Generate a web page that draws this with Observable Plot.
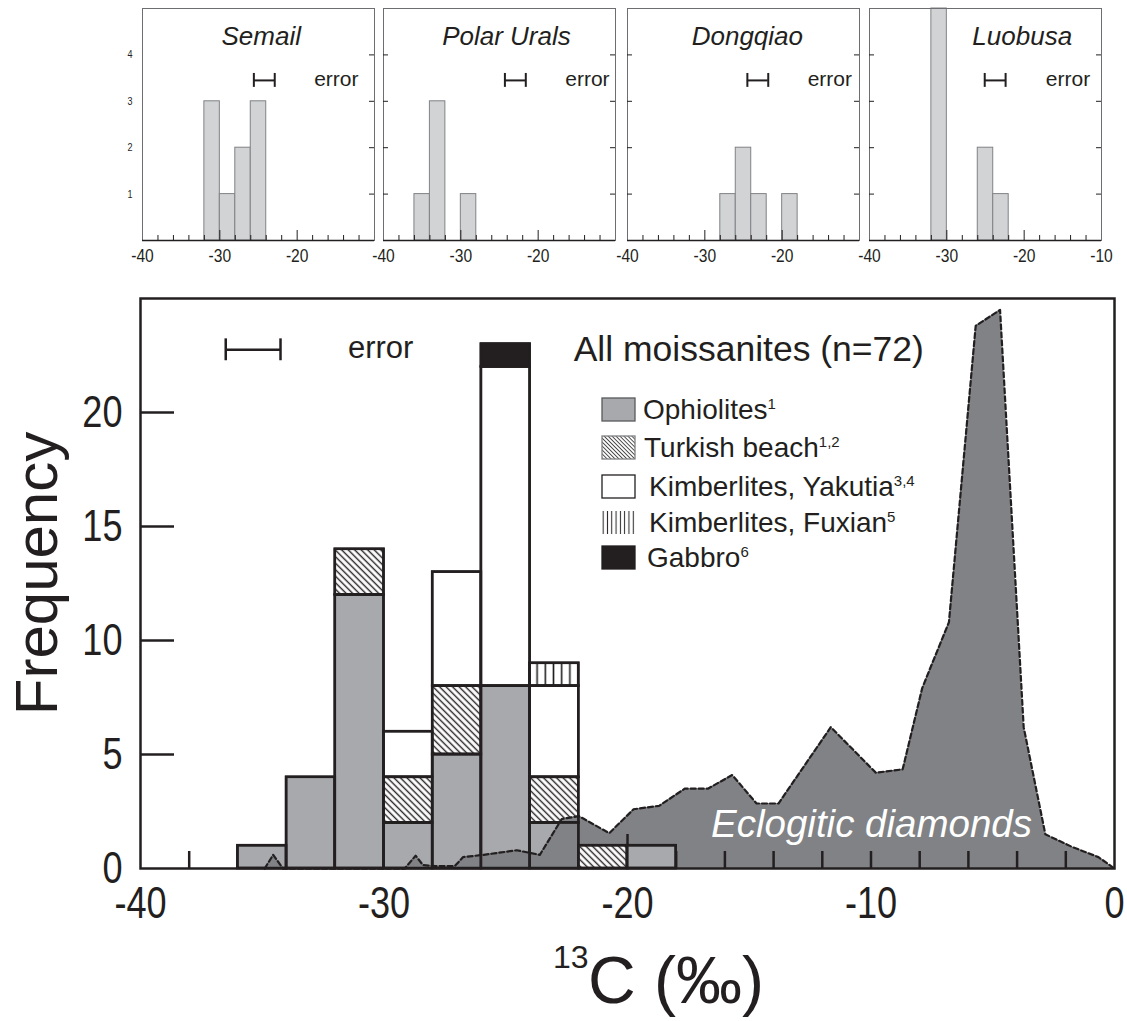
<!DOCTYPE html>
<html>
<head>
<meta charset="utf-8">
<script src="https://cdn.jsdelivr.net/npm/d3@7"></script>
<script src="https://cdn.jsdelivr.net/npm/@observablehq/plot@0.6"></script>
<style>
  body { margin: 0; background: #ffffff; }
  #root { position: relative; width: 1127px; height: 1021px; overflow: hidden;
          font-family: "Liberation Sans", Arial, Helvetica, sans-serif; color: #231f20; background: #fff; }
  .abs { position: absolute; }
  .legtext { position: absolute; font-size: 28px; line-height: 28px; white-space: nowrap; }
  .legtext sup { font-size: 15px; vertical-align: baseline; position: relative; top: -10px; }
</style>
</head>
<body>
<div id="root"></div>
<script>
// ---------------- data ----------------
// main histogram (bins of 2 permil)
const binStarts = [-36, -34, -32, -30, -28, -26, -24, -22, -20];
const binWidth = 2;
const sources = ["Ophiolites", "Turkish beach", "Kimberlites, Yakutia", "Kimberlites, Fuxian", "Gabbro"];
const ophiolites         = [1, 4, 12, 2, 5, 8, 2, 0, 1];
const turkishBeach       = [0, 0, 2, 2, 3, 0, 2, 1, 0];
const kimberlitesYakutia = [0, 0, 0, 2, 5, 14, 4, 0, 0];
const kimberlitesFuxian  = [0, 0, 0, 0, 0, 0, 1, 0, 0];
const gabbro             = [0, 0, 0, 0, 0, 1, 0, 0, 0];
const legendRefs = ["1", "1,2", "3,4", "5", "6"];

// eclogitic diamonds distribution
const eclogiteX = [-34.9, -34.55, -34.15, -29.15, -28.7, -28.4, -27.9, -27.1, -26.75, -25.9, -24.55, -23.6, -22.7, -22.0,
                   -20.75, -19.75, -18.7, -17.65, -16.7, -15.7, -14.7, -13.8, -11.65, -9.8, -8.7, -7.9, -7.6, -6.8,
                   -5.7, -4.7, -3.73, -2.84, -1.75, -0.66, 0];
const eclogiteY = [0, 0.6, 0, 0, 0.56, 0.15, 0.1, 0.1, 0.5, 0.6, 0.8, 0.6, 2.17, 2.3,
                   1.55, 2.6, 2.75, 3.5, 3.5, 4.1, 2.85, 2.85, 6.2, 4.2, 4.35, 7.9, 8.7, 10.8,
                   23.8, 24.5, 6.2, 1.5, 0.95, 0.5, 0];

const mainXTickLabels = [-40, -30, -20, -10, 0];
const mainYTickLabels = [0, 5, 10, 15, 20];
const mainMinorXTicks = [-38, -36, -34, -32, -28, -26, -24, -22, -18, -16, -14, -12, -10, -8, -6, -4, -2];
const mainMajorXTicks = [-30, -20];
const mainYTicks = [5, 10, 15, 20];
const mainError = [-36.5, -34.25];
const mainErrorY = 22.75;

// small panels
const panelNames = ["Semail", "Polar Urals", "Dongqiao", "Luobusa"];
const semailBins = [-32, -30, -28, -26];     const semailCounts = [3, 1, 2, 3];
const polarUralsBins = [-36, -34, -30];      const polarUralsCounts = [1, 3, 1];
const dongqiaoBins = [-28, -26, -24, -20];   const dongqiaoCounts = [1, 2, 1, 1];
const luobusaBins = [-32, -26, -24];         const luobusaCounts = [5, 2, 1];
const smallXTickLabels = [[-40, -30, -20], [-40, -30, -20], [-40, -30, -20], [-40, -30, -20, -10]];
const smallMinorXTicks = [-38, -36, -34, -32, -28, -26, -24, -22, -18, -16, -14, -12];
const smallMajorXTicks = [-30, -20];
const smallYTicks = [1, 2, 3, 4];
const smallErrors = [[-25.6, -22.9], [-24.3, -21.6], [-24.5, -21.8], [-25.1, -22.4]];
const smallErrorY = 3.45;
const smallErrorTextX = [-17.8, -16.5, -16.7, -17.2];
const smallTitleX = [-24.65, -24.1, -24.5, -20.25];

// ---------------- styling ----------------
const INK = "#231f20";
const REG = '"Liberation Sans", Arial, Helvetica, sans-serif';
const sourceFills = ["#a7a9ac", "url(#hatchMain)", "#ffffff", "url(#vertMain)", INK];
const legendFills = ["#a7a9ac", "url(#hatchLegend)", "#ffffff", "url(#vertLegend)", INK];
const legendStrokes = ["#58595b", "#808285", INK, "none", INK];
const fmt = d => String(d);   // plain hyphen-minus as in the original

const root = document.getElementById("root");

// pattern definitions
const defsSvg = d3.select(root).append("svg").attr("width", 0).attr("height", 0)
  .style("position", "absolute").style("left", 0).style("top", 0);
const defs = defsSvg.append("defs");
function hatch(id, w, sw, rot) {
  const p = defs.append("pattern").attr("id", id).attr("patternUnits", "userSpaceOnUse")
    .attr("width", w).attr("height", 20);
  if (rot) p.attr("patternTransform", `rotate(${rot})`);
  p.append("rect").attr("width", w).attr("height", 20).attr("fill", "#ffffff");
  p.append("line").attr("x1", w / 2).attr("x2", w / 2).attr("y1", -1).attr("y2", 21)
    .attr("stroke", INK).attr("stroke-width", sw);
}
hatch("hatchMain", 4.6, 1.4, -45);
hatch("vertMain", 8.2, 1.6, 0);
hatch("hatchLegend", 2.8, 0.8, -45);
hatch("vertLegend", 4.3, 1.0, 0);

// condense tick labels (the original uses a narrow sans)
function condense(svg, factor) {
  svg.querySelectorAll('g[aria-label$="tick label"] text').forEach(t => {
    const w = t.getComputedTextLength();
    if (w > 0) {
      t.setAttribute("textLength", (w * factor).toFixed(2));
      t.setAttribute("lengthAdjust", "spacingAndGlyphs");
    }
  });
}

// ---------------- small panels ----------------
const panelBins = [semailBins, polarUralsBins, dongqiaoBins, luobusaBins];
const panelCounts = [semailCounts, polarUralsCounts, dongqiaoCounts, luobusaCounts];
const panelFrameLeft = [142, 382.5, 626.5, 868.5];
const SW = 232, SH = 232, sL = 24, sR = 8, sT = 8, sB = 40;

panelNames.forEach((name, i) => {
  const data = panelBins[i].map((b, j) => ({x1: b, x2: b + binWidth, n: panelCounts[i][j]}));
  const err = smallErrors[i];
  const p = Plot.plot({
    width: SW + sL + sR, height: SH + sT + sB,
    marginLeft: sL, marginRight: sR, marginTop: sT, marginBottom: sB,
    x: {domain: [-40, -10], label: null},
    y: {domain: [0, 5], label: null, axis: i === 0 ? undefined : null},
    style: {background: "transparent", overflow: "visible", fontFamily: REG, color: INK},
    marks: [
      Plot.rectY(data, {x1: "x1", x2: "x2", y1: 0, y2: "n", fill: "#d1d3d4", stroke: "#808285", strokeWidth: 1}),
      Plot.frame({stroke: "#6d6e71", strokeWidth: 1}),
      Plot.ruleX(smallMinorXTicks, {x: d => d, insetTop: SH - 5, stroke: INK, strokeWidth: 1}),
      Plot.ruleX(smallMajorXTicks, {x: d => d, insetTop: SH - 10, stroke: INK, strokeWidth: 1}),
      i === 0
        ? Plot.ruleY(smallYTicks, {y: d => d, insetRight: SW + 5, insetLeft: -5, stroke: INK, strokeWidth: 1})
        : Plot.ruleY(smallYTicks, {y: d => d, insetRight: SW - 5, stroke: INK, strokeWidth: 1}),
      Plot.ruleY(smallYTicks, {y: d => d, insetLeft: SW - 5, stroke: INK, strokeWidth: 1}),
      Plot.ruleY([0], {stroke: INK, strokeWidth: 1.3}),
      Plot.axisX(smallXTickLabels[i], {tickSize: 0, tickPadding: 8, fontSize: 19, tickFormat: fmt, label: null}),
      i === 0 ? Plot.axisY(smallYTicks, {tickSize: 0, tickPadding: 10, fontSize: 11, tickFormat: fmt, label: null}) : null,
      Plot.text([name], {x: smallTitleX[i], y: 4.21, text: d => d, fontSize: 26, fontStyle: "italic",
                         lineAnchor: "bottom", fill: INK}),
      Plot.ruleY([smallErrorY], {x1: err[0], x2: err[1], stroke: INK, strokeWidth: 2}),
      Plot.ruleX(err, {x: d => d, y1: smallErrorY - 0.15, y2: smallErrorY + 0.15, stroke: INK, strokeWidth: 2}),
      Plot.text(["error"], {x: smallErrorTextX[i], y: 3.32, text: d => d, fontSize: 21, textAnchor: "start",
                            lineAnchor: "bottom", fill: INK})
    ]
  });
  p.style.position = "absolute";
  p.style.left = (panelFrameLeft[i] - sL) + "px";
  p.style.top = "0px";
  root.appendChild(p);
  condense(p, 0.82);
});

// ---------------- main chart ----------------
const sourceCounts = [ophiolites, turkishBeach, kimberlitesYakutia, kimberlitesFuxian, gabbro];
const stacked = [];
binStarts.forEach((b, i) => {
  let base = 0;
  sources.forEach((s, k) => {
    const v = sourceCounts[k][i];
    if (v > 0) stacked.push({x1: b, x2: b + binWidth, y1: base, y2: base + v, source: s});
    base += v;
  });
});
const eclogite = eclogiteX.map((x, i) => ({x, y: eclogiteY[i]}));
const eclogiteLow = eclogite.filter(d => d.x <= -22);

const MW = 1127, mL = 140, mR = 13, mT = 28, mB = 150;
const innerW = MW - mL - mR, innerH = 570;

const main = Plot.plot({
  width: MW, height: innerH + mT + mB,
  marginLeft: mL, marginRight: mR, marginTop: mT, marginBottom: mB,
  x: {domain: [-40, 0], label: null},
  y: {domain: [0, 25], label: null},
  color: {domain: sources, range: sourceFills},
  style: {background: "transparent", overflow: "visible", fontFamily: REG, color: INK},
  marks: [
    Plot.areaY(eclogite, {x: "x", y: "y", fill: "#808285"}),
    Plot.lineY(eclogite, {x: "x", y: "y", stroke: INK, strokeWidth: 2.2, strokeDasharray: "5,3"}),
    Plot.ruleX(mainMinorXTicks, {x: d => d, insetTop: innerH - 17, stroke: INK, strokeWidth: 2.5}),
    Plot.ruleX(mainMajorXTicks, {x: d => d, insetTop: innerH - 34, stroke: INK, strokeWidth: 2.5}),
    Plot.ruleY(mainYTicks, {y: d => d, insetRight: innerW - 34, stroke: INK, strokeWidth: 2.5}),
    Plot.rect(stacked, {x1: "x1", x2: "x2", y1: "y1", y2: "y2", fill: "source", stroke: INK, strokeWidth: 2.5}),
    Plot.areaY(eclogiteLow, {x: "x", y: "y", fill: "#808285"}),
    Plot.lineY(eclogiteLow, {x: "x", y: "y", stroke: INK, strokeWidth: 2.2, strokeDasharray: "5,3"}),
    Plot.rect(stacked, {x1: "x1", x2: "x2", y1: "y1", y2: "y2", fill: "none", stroke: INK, strokeWidth: 2.5}),
    Plot.frame({stroke: INK, strokeWidth: 2.5}),
    Plot.ruleY([mainErrorY], {x1: mainError[0], x2: mainError[1], stroke: INK, strokeWidth: 2.5}),
    Plot.ruleX(mainError, {x: d => d, y1: mainErrorY - 0.48, y2: mainErrorY + 0.48, stroke: INK, strokeWidth: 2.5}),
    Plot.text(["error"], {x: -31.48, y: 22.38, text: d => d, fontSize: 31, textAnchor: "start", lineAnchor: "bottom", fill: INK}),
    Plot.text(["All moissanites (n=72)"], {x: -22.21, y: 22.25, text: d => d, fontSize: 35.5, textAnchor: "start", lineAnchor: "bottom", fill: INK}),
    Plot.text(["Eclogitic diamonds"], {x: -16.57, y: 1.38, text: d => d, fontSize: 38.5, fontStyle: "italic", textAnchor: "start", lineAnchor: "bottom", fill: "#ffffff"}),
    Plot.axisX(mainXTickLabels, {tickSize: 0, tickPadding: 18, fontSize: 44, tickFormat: fmt, label: null}),
    Plot.axisY(mainYTickLabels, {tickSize: 0, tickPadding: 18, fontSize: 44, tickFormat: fmt, label: null}),
    Plot.text(["Frequency"], {frameAnchor: "left", text: d => d, rotate: -90, textAnchor: "middle",
                              dx: -103, dy: -10, fontSize: 60, fill: INK})
  ]
});
main.style.position = "absolute";
main.style.left = "0px";
main.style.top = "270px";
root.appendChild(main);
condense(main, 0.82);

// ---------------- legend ----------------
const legendCenters = [409, 447, 486, 522, 557];
const legendTextX = [643, 644, 649, 649, 647];
sources.forEach((s, k) => {
  const sw = d3.select(root).append("svg").attr("width", 35).attr("height", 25)
    .style("position", "absolute").style("left", "601px").style("top", (legendCenters[k] - 12.5) + "px");
  sw.append("rect").attr("x", 1).attr("y", 1).attr("width", 33).attr("height", 23)
    .attr("fill", legendFills[k]).attr("stroke", legendStrokes[k]).attr("stroke-width", 1.3);
  const t = document.createElement("div");
  t.className = "legtext";
  t.style.left = legendTextX[k] + "px";
  t.style.top = (legendCenters[k] + 11 - 23.7) + "px";
  t.innerHTML = `${s}<sup>${legendRefs[k]}</sup>`;
  root.appendChild(t);
});

// ---------------- x-axis title ----------------
const sup = document.createElement("div");
sup.className = "abs";
sup.style.cssText = "left:553px;top:941px;font-size:32px;line-height:32px;";
sup.textContent = "13";
root.appendChild(sup);
const xt = document.createElement("div");
xt.className = "abs";
xt.style.cssText = "left:588px;top:947px;font-size:66px;line-height:66px;white-space:nowrap;";
xt.textContent = "C (‰)";
root.appendChild(xt);
</script>
</body>
</html>
